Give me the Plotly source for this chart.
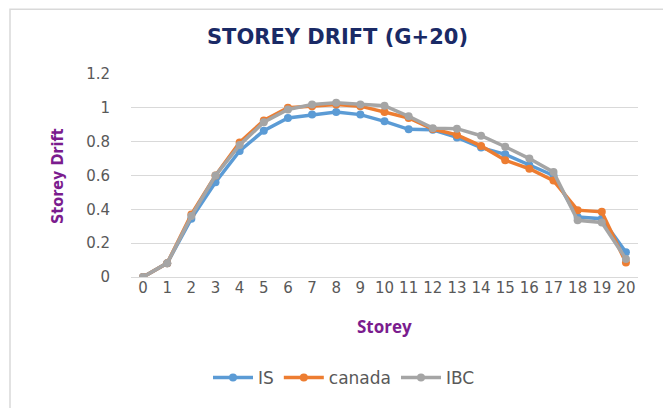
import plotly.graph_objects as go

# storey drift per storey
storeys = [str(i) for i in range(21)]
is_drift = [0, 0.082, 0.345, 0.56, 0.745, 0.865, 0.94, 0.96, 0.975, 0.96, 0.92,
            0.873, 0.87, 0.825, 0.765, 0.725, 0.66, 0.60, 0.355, 0.345, 0.146]
canada_drift = [0, 0.082, 0.37, 0.60, 0.795, 0.925, 1.0, 1.01, 1.02, 1.01, 0.975,
                0.94, 0.875, 0.84, 0.775, 0.69, 0.64, 0.57, 0.395, 0.385, 0.085]
ibc_drift = [0, 0.082, 0.36, 0.60, 0.78, 0.915, 0.99, 1.02, 1.03, 1.02, 1.013,
             0.95, 0.88, 0.877, 0.835, 0.77, 0.70, 0.62, 0.335, 0.322, 0.107]

series = [
    ("IS", is_drift, "#5B9BD5"),
    ("canada", canada_drift, "#ED7D31"),
    ("IBC", ibc_drift, "#A5A5A5"),
]

# the page has an 8px body margin, so the figure is a bit smaller than the window
W, H = 663, 400
L, R, T, B = 123, 33, 66, 129
pw, ph = W - L - R, H - T - B

fig = go.Figure()
for name, vals, color in series:
    fig.add_trace(go.Scatter(
        x=storeys, y=vals, name=name, mode="lines+markers",
        line=dict(color=color, width=3.5),
        marker=dict(color=color, size=8),
    ))

fig.update_layout(
    width=W, height=H,
    margin=dict(l=L, r=R, t=T, b=B),
    paper_bgcolor="white", plot_bgcolor="white",
    font=dict(family="DejaVu Sans, sans-serif", color="#595959", size=15),
    title=dict(text="<b>STOREY DRIFT (G+20)</b>", x=329.5 / W, xanchor="center",
               y=1 - 29 / H, yanchor="middle",
               font=dict(size=21, color="#1A2A66", family="DejaVu Sans, sans-serif")),
    showlegend=True,
    legend=dict(orientation="h", x=(336 - L) / pw, xanchor="center",
                y=(H - B - 373) / ph, yanchor="middle", itemwidth=40,
                font=dict(size=17, color="#595959")),
    shapes=[dict(type="rect", xref="paper", yref="paper",
                 x0=(2 - L) / pw, x1=(656 - L) / pw,
                 y0=(H - B - 404) / ph, y1=(H - B - 0.5) / ph,
                 line=dict(color="#D9D9D9", width=1.5), layer="below")],
    annotations=[
        dict(text="<b>Storey</b>", xref="paper", yref="paper",
             x=(376 - L) / pw, y=(H - B - 321) / ph, showarrow=False,
             xanchor="center", yanchor="middle",
             font=dict(size=17, color="#7B1C8E", family="Open Sans, sans-serif")),
        dict(text="<b>Storey Drift</b>", xref="paper", yref="paper",
             x=(50 - L) / pw, y=(H - B - 169) / ph, showarrow=False, textangle=-90,
             xanchor="center", yanchor="middle",
             font=dict(size=16, color="#7B1C8E",
                       family="Liberation Sans Narrow, DejaVu Sans Condensed, sans-serif")),
    ],
)
fig.update_xaxes(
    type="category", range=[-0.5, 20.5], showgrid=False, showline=False,
    ticks="", tickfont=dict(size=15, color="#595959"), tickangle=0,
)
fig.update_yaxes(
    range=[0, 1.2], dtick=0.2, showgrid=True, gridcolor="#D9D9D9", gridwidth=1,
    zeroline=True, zerolinecolor="#D9D9D9", zerolinewidth=1, showline=False,
    ticks="", ticklabelstandoff=20, tickfont=dict(size=15, color="#595959"),
)

fig.write_html("out.html")
